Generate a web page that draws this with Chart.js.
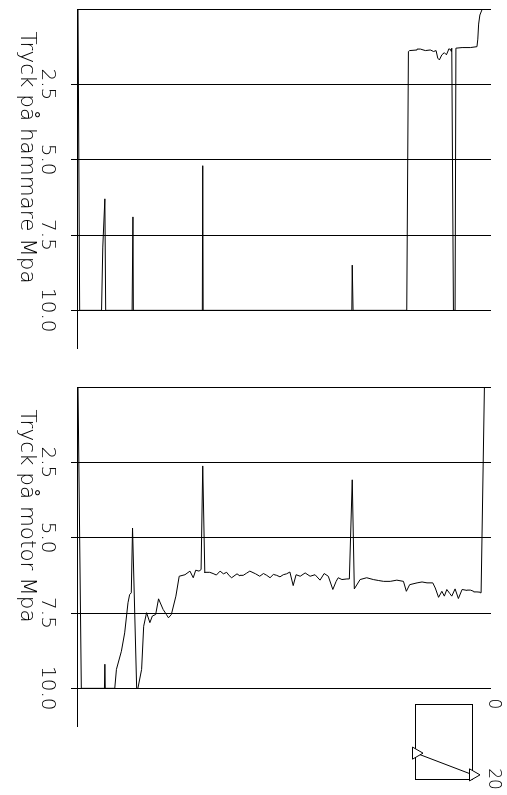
<!DOCTYPE html>
<html><head><meta charset="utf-8">
<script src="https://cdn.jsdelivr.net/npm/chart.js@4/dist/chart.umd.min.js"></script>
<style>
html,body{margin:0;padding:0;background:#fff;width:507px;height:795px;overflow:hidden}
#rot{position:absolute;left:0;top:0;width:795px;height:507px;transform-origin:0 0;transform:translate(507px,0) rotate(90deg)}
.c{position:absolute;top:0}
canvas{display:block}
</style></head><body>
<div id="rot">
 <div class="c" style="left:0"><canvas id="c1" width="360" height="507"></canvas></div>
 <div class="c" style="left:378px"><canvas id="c2" width="360" height="507"></canvas></div>
 <div class="c" style="left:694px"><canvas id="c3" width="101" height="110"></canvas></div>
</div>
<script>
// ---- data ----
const pressureTicks = [2.5, 5.0, 7.5, 10.0];
const titleHammer = "Tryck på hammare Mpa";
const titleMotor = "Tryck på motor Mpa";

const hammerTime = [0, 0.4, 5.7, 6.0, 6.5, 6.7, 13.1, 13.3, 13.4, 30.1, 30.2, 30.3, 66.3, 66.4, 66.6,
  79.6, 80.0, 80.3, 82.1, 82.9, 84.1, 85.3, 86.1, 86.7, 87.1, 87.5, 88.1, 88.7, 89.2, 89.7, 90.1, 90.4, 90.5,
  90.9, 91.3, 91.5, 93.0, 95.0, 96.6, 96.8, 97.0, 97.3, 97.8, 98.6];
const hammerPressure = [0, 10, 10, 7.9, 6.3, 10, 10, 6.9, 10, 10, 5.2, 10, 10, 8.5, 10,
  10, 1.41, 1.38, 1.36, 1.33, 1.38, 1.36, 1.41, 1.38, 1.63, 1.69, 1.52, 1.45, 1.52, 1.36, 1.33, 1.41, 1.30,
  10, 10, 1.30, 1.28, 1.28, 1.25, 1.0, 0.5, 0.2, 0.03, 0];

const motorTime = [0, 0.8, 6.4, 6.5, 6.6, 8.9, 9.3, 10.5, 11.3, 12.1, 12.5, 12.9, 13.2, 14.2, 14.5, 15.4, 15.9,
  16.6, 17.4, 18.0, 18.8, 19.5, 20.6, 21.4, 21.9, 22.6, 23.7, 24.5, 25.9, 27.1, 27.9, 28.5, 29.3, 29.8, 30.2,
  30.7, 31.9, 32.7, 33.5, 34.4, 35.2, 36.0, 36.6, 37.2, 38.5, 39.2, 40.0, 40.8, 41.6, 43.0, 44.0, 44.9, 45.7,
  46.5, 47.3, 48.1, 48.9, 49.7, 50.5, 51.3, 52.1, 52.8, 53.8, 55.0, 56.2, 57.4, 58.6, 59.6, 60.6, 61.7, 62.5,
  63.0, 63.9, 65.1, 65.7, 66.4, 66.9, 68.3, 69.9, 71.5, 72.7, 74.0, 75.6, 77.2, 78.8, 79.5, 80.3, 82.1, 83.3,
  84.5, 85.9, 86.5, 87.3, 88.1, 88.7, 89.3, 90.0, 90.5, 91.3, 92.1, 93.0, 94.2, 95.0, 95.8, 96.6, 97.4, 97.6, 98.4];
const motorPressure = [0, 10, 10, 9.2, 10, 10, 9.37, 8.77, 8.16, 7.16, 6.89, 6.83, 4.68, 10, 10, 9.37, 7.94,
  7.49, 7.82, 7.6, 7.55, 7.03, 7.38, 7.55, 7.66, 7.55, 6.94, 6.28, 6.23, 6.11, 6.33, 6.08, 6.11, 6.06, 2.62,
  6.17, 6.15, 6.19, 6.24, 6.11, 6.2, 6.15, 6.26, 6.33, 6.2, 6.27, 6.25, 6.18, 6.11, 6.2, 6.28, 6.19, 6.25,
  6.33, 6.22, 6.25, 6.3, 6.23, 6.2, 6.14, 6.59, 6.23, 6.28, 6.17, 6.28, 6.23, 6.41, 6.19, 6.28, 6.72, 6.45,
  6.33, 6.39, 6.37, 6.37, 3.08, 6.7, 6.39, 6.33, 6.39, 6.42, 6.45, 6.45, 6.41, 6.45, 6.78, 6.56, 6.5, 6.47,
  6.5, 6.5, 6.67, 6.98, 6.78, 6.94, 6.72, 6.85, 6.94, 6.70, 7.02, 6.72, 6.75, 6.74, 6.78, 6.8, 6.81, 6.83, 0];

const miniTicks = [0, 20];
const miniX = [13.1, 18.9];
const miniY = [0, 1];

// ---- charts ----
const FAM = "'DejaVu Sans', 'Liberation Sans', sans-serif";
const FONT = {family: FAM, size: 20, weight: 200};

function titlePlugin(text) {
  return {
    id: 'axisTitle',
    afterDraw(chart) {
      const ctx = chart.ctx, xs = chart.scales.x;
      ctx.save();
      ctx.font = "200 21.5px " + FAM;
      ctx.fillStyle = '#000';
      ctx.textAlign = 'left';
      ctx.textBaseline = 'alphabetic';
      ctx.fillText(text, xs.getPixelForValue(0.75), 486);
      ctx.restore();
    }
  };
}

function pressureChart(id, times, values, title) {
  return new Chart(document.getElementById(id), {
    type: 'scatter',
    data: {datasets: [{
      data: times.map((t, i) => ({x: values[i], y: t})),
      showLine: true, borderColor: '#000', borderWidth: 1, pointRadius: 0, tension: 0, fill: false
    }]},
    options: {
      responsive: false, animation: false, events: [],
      layout: {padding: {left: 9, right: 12, top: 16, bottom: 0}},
      plugins: {legend: {display: false}, tooltip: {enabled: false}},
      scales: {
        x: {type: 'linear', position: 'bottom', min: 0, max: 11.25,
          afterBuildTicks: s => { s.ticks = pressureTicks.map(v => ({value: v})); },
          afterFit: s => { s.height = 78; },
          grid: {color: '#000', lineWidth: 1, drawTicks: true, tickLength: 7, tickColor: '#000'},
          border: {display: true, color: '#000', width: 1},
          ticks: {color: '#000', font: FONT, padding: 12, maxRotation: 0, minRotation: 0,
                  callback: v => Number(v).toFixed(1)}
        },
        y: {type: 'linear', position: 'left', min: 0, max: 100,
          afterFit: s => { s.width = 0; },
          grid: {display: false}, border: {display: true, color: '#000', width: 1},
          ticks: {display: false}
        }
      }
    },
    plugins: [titlePlugin(title)]
  });
}

pressureChart('c1', hammerTime, hammerPressure, titleHammer);
pressureChart('c2', motorTime, motorPressure, titleMotor);

const hidden = {grid: {display: false}, ticks: {display: false}, border: {display: true, color: '#000', width: 1}};
new Chart(document.getElementById('c3'), {
  type: 'scatter',
  data: {datasets: [{
    data: miniX.map((x, i) => ({x: x, y: miniY[i]})),
    showLine: true, borderColor: '#000', borderWidth: 1,
    pointStyle: 'triangle', pointRadius: 7, pointBackgroundColor: '#fff',
    pointBorderColor: '#000', pointBorderWidth: 1, clip: false
  }]},
  options: {
    responsive: false, animation: false, events: [],
    layout: {padding: {left: 10, right: 16, top: 0, bottom: 19}},
    plugins: {legend: {display: false}, tooltip: {enabled: false}},
    scales: {
      x: {type: 'linear', axis: 'x', position: 'top', min: 0, max: 20,
        afterBuildTicks: s => { s.ticks = miniTicks.map(v => ({value: v})); },
        afterFit: s => { s.height = 34; s.paddingLeft = 0; s.paddingRight = 0; },
        grid: {display: false, drawTicks: false},
        border: {display: true, color: '#000', width: 1},
        ticks: {color: '#000', font: {family: FAM, size: 17, weight: 200}, padding: 10, maxRotation: 0, minRotation: 0}
      },
      x2: Object.assign({type: 'linear', axis: 'x', position: 'bottom', min: 0, max: 20,
        afterFit: s => { s.height = 0; s.paddingLeft = 0; s.paddingRight = 0; }}, hidden),
      y: Object.assign({type: 'linear', axis: 'y', position: 'left', min: 0, max: 1,
        afterFit: s => { s.width = 0; }}, hidden),
      y2: Object.assign({type: 'linear', axis: 'y', position: 'right', min: 0, max: 1,
        afterFit: s => { s.width = 0; }}, hidden)
    }
  }
});
</script>
</body></html>
